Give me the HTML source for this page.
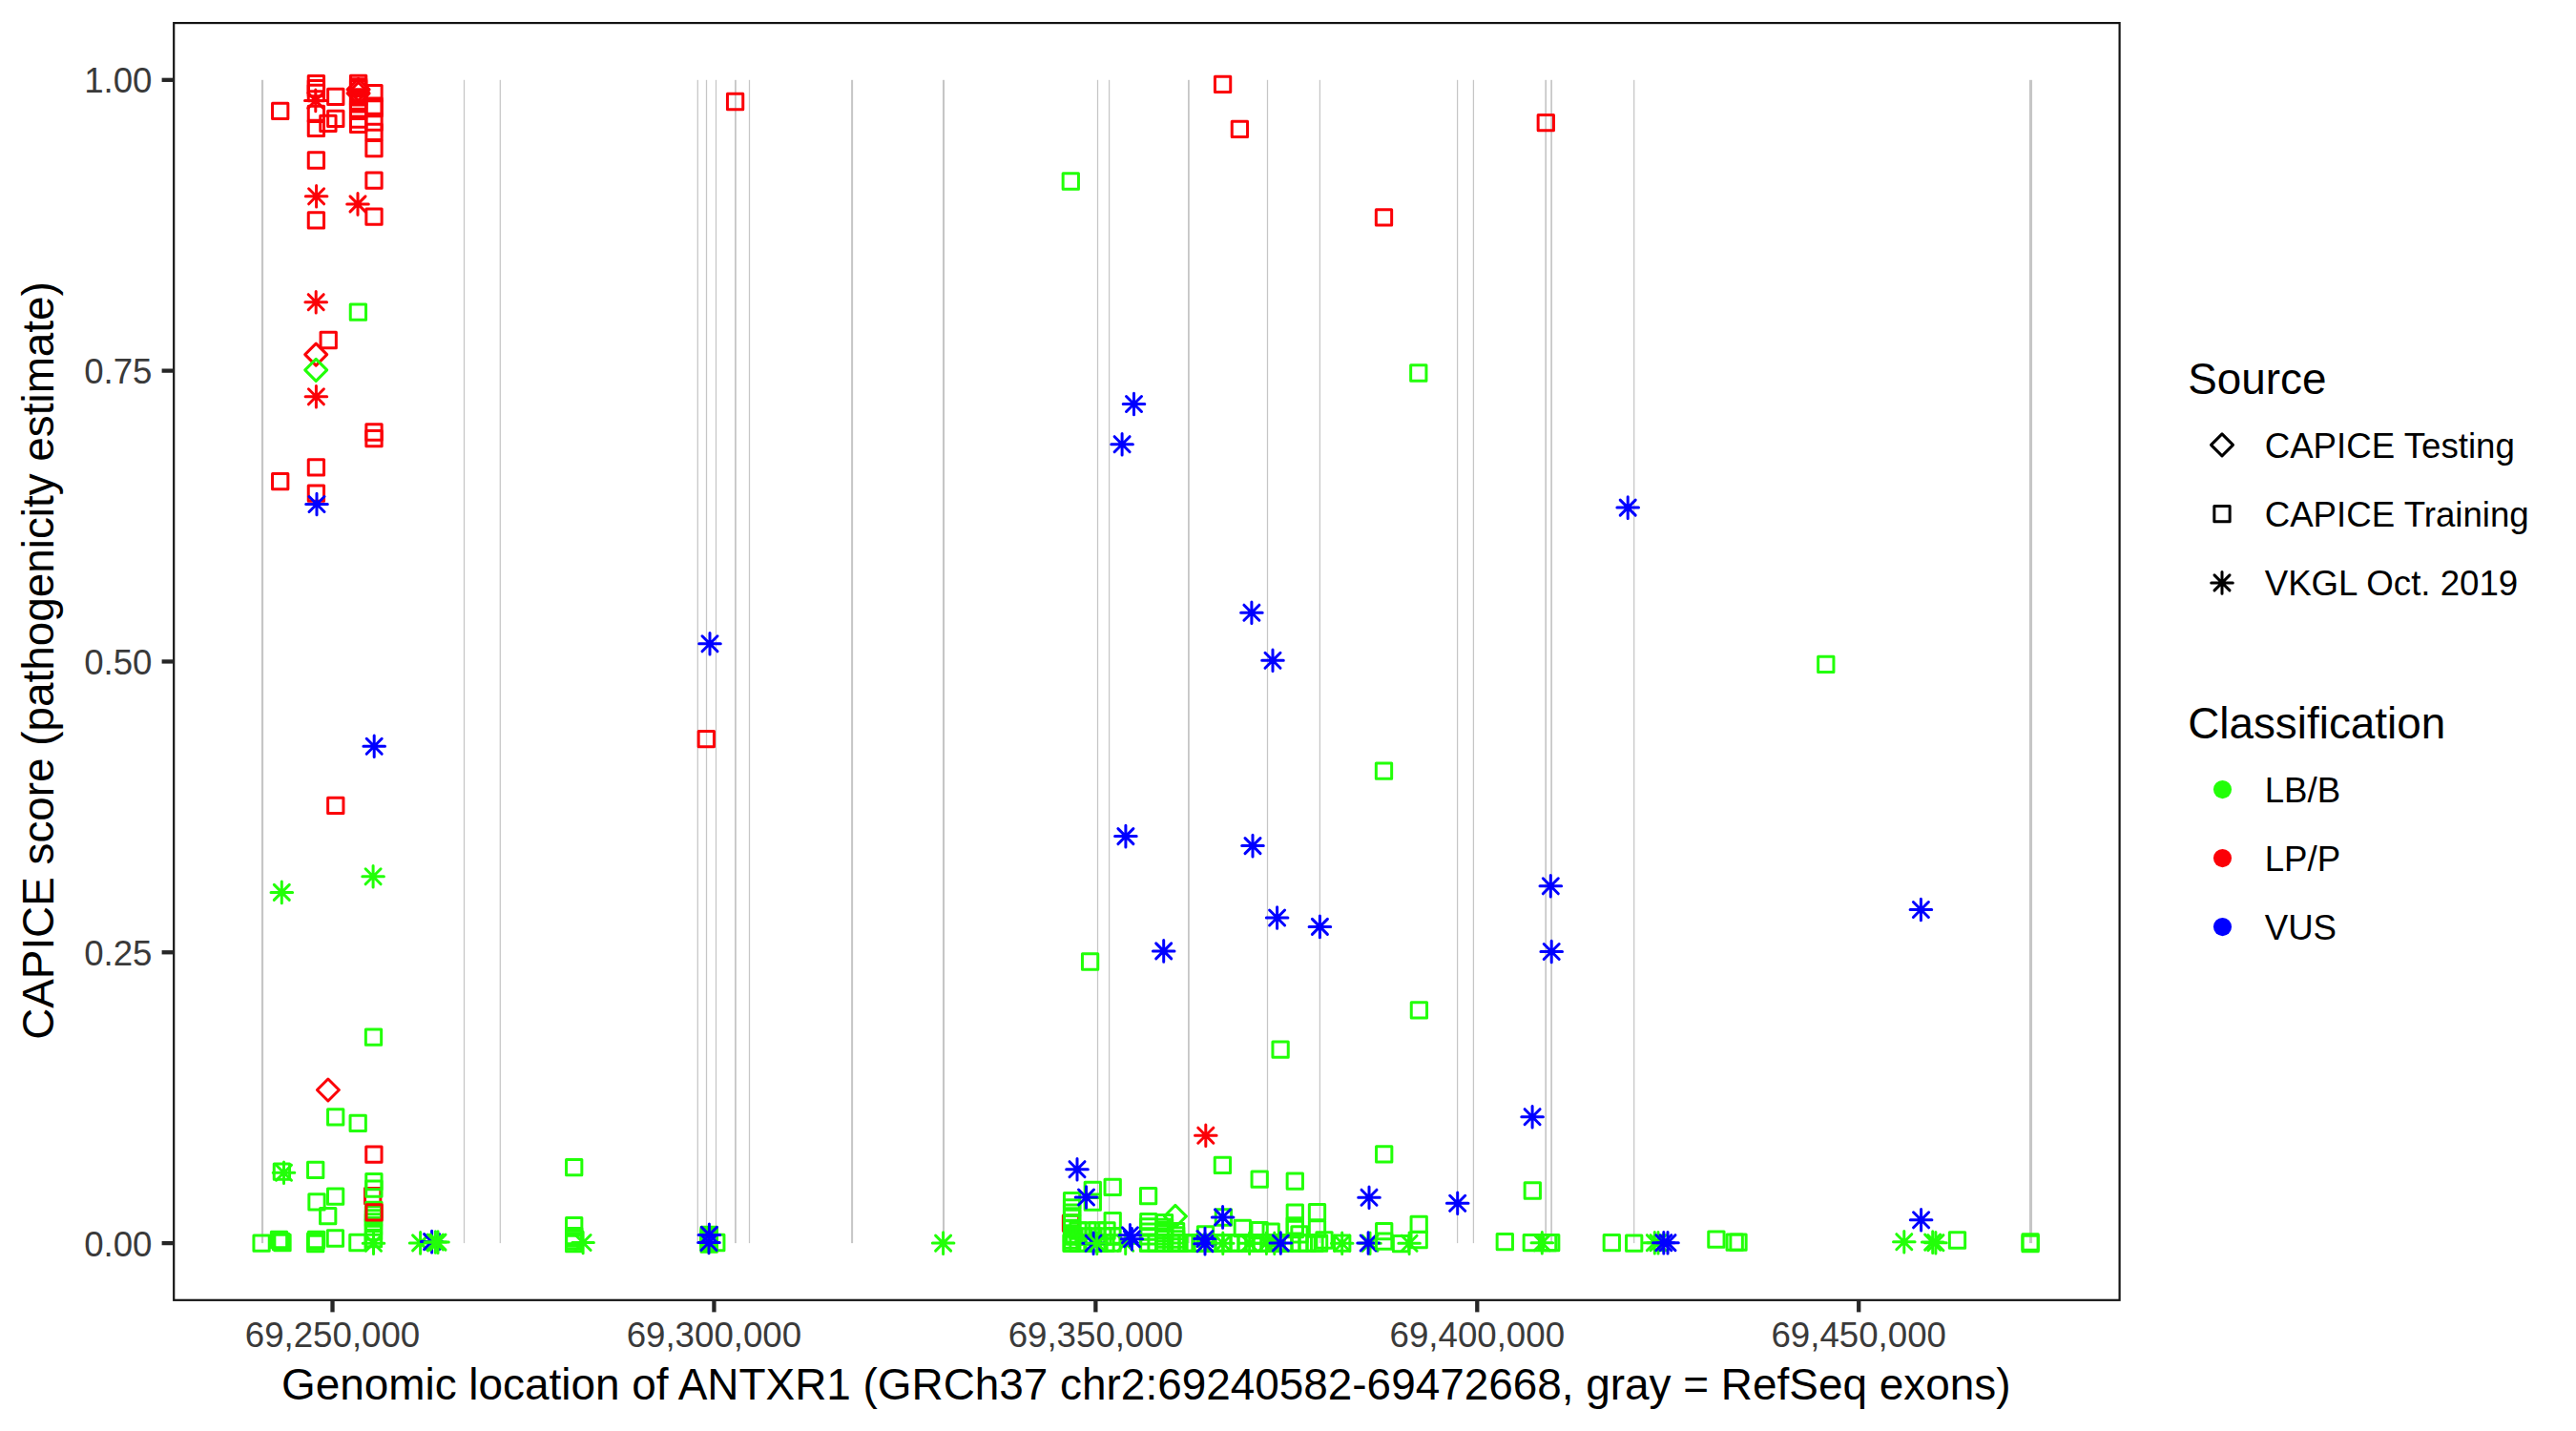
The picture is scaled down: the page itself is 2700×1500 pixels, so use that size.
<!DOCTYPE html><html><head><meta charset="utf-8"><title>CAPICE ANTXR1</title>
<style>html,body{margin:0;padding:0;background:#fff}svg{display:block}text{font-family:"Liberation Sans",Arial,Helvetica,sans-serif}</style></head><body>
<svg width="2700" height="1500" viewBox="0 0 2700 1500">
<rect width="2700" height="1500" fill="#fff"/>
<defs>
<rect id="s" x="-8.15" y="-8.15" width="16.3" height="16.3" fill="none" stroke-width="3.0" stroke-linejoin="round"/>
<path id="d" d="M-11.5 0L0 -11.5L11.5 0L0 11.5Z" fill="none" stroke-width="3.0" stroke-linejoin="round"/>
<path id="a" d="M-11.3 0H11.3M0 -11.3V11.3M-8 -8L8 8M-8 8L8 -8" fill="none" stroke-width="3.0" stroke-linecap="round"/>
</defs>
<g fill="#C6C6C6">
<rect x="273.90" y="83.8" width="2.20" height="1219.3"/>
<rect x="485.88" y="83.8" width="1.25" height="1219.3"/>
<rect x="523.67" y="83.8" width="1.25" height="1219.3"/>
<rect x="730.67" y="83.8" width="1.25" height="1219.3"/>
<rect x="739.88" y="83.8" width="1.25" height="1219.3"/>
<rect x="749.88" y="83.8" width="1.25" height="1219.3"/>
<rect x="770.00" y="83.8" width="1.80" height="1219.3"/>
<rect x="784.88" y="83.8" width="1.25" height="1219.3"/>
<rect x="892.10" y="83.8" width="2.00" height="1219.3"/>
<rect x="987.95" y="83.8" width="2.10" height="1219.3"/>
<rect x="1149.88" y="83.8" width="1.25" height="1219.3"/>
<rect x="1161.97" y="83.8" width="1.25" height="1219.3"/>
<rect x="1245.00" y="83.8" width="1.80" height="1219.3"/>
<rect x="1327.88" y="83.8" width="1.25" height="1219.3"/>
<rect x="1382.78" y="83.8" width="1.25" height="1219.3"/>
<rect x="1526.97" y="83.8" width="1.25" height="1219.3"/>
<rect x="1543.78" y="83.8" width="1.25" height="1219.3"/>
<rect x="1619.35" y="83.8" width="1.70" height="1219.3"/>
<rect x="1625.25" y="83.8" width="1.70" height="1219.3"/>
<rect x="1712.08" y="83.8" width="1.25" height="1219.3"/>
<rect x="2126.95" y="83.8" width="3.10" height="1219.3"/>
</g>
<g>
<use href="#s" x="293.7" y="116.4" stroke="#FB0007"/>
<use href="#s" x="293.7" y="504.6" stroke="#FB0007"/>
<use href="#s" x="331.4" y="87.7" stroke="#FB0007"/>
<use href="#s" x="331.4" y="92.6" stroke="#FB0007"/>
<use href="#s" x="331.4" y="97.5" stroke="#FB0007"/>
<use href="#s" x="331.4" y="119.4" stroke="#FB0007"/>
<use href="#s" x="331.4" y="134.4" stroke="#FB0007"/>
<use href="#s" x="331.4" y="168.0" stroke="#FB0007"/>
<use href="#s" x="331.4" y="230.9" stroke="#FB0007"/>
<use href="#s" x="331.4" y="489.9" stroke="#FB0007"/>
<use href="#s" x="331.4" y="517.1" stroke="#FB0007"/>
<use href="#a" x="330.8" y="105.4" stroke="#FB0007"/>
<use href="#a" x="331.6" y="205.8" stroke="#FB0007"/>
<use href="#a" x="331.2" y="316.7" stroke="#FB0007"/>
<use href="#a" x="331.4" y="415.8" stroke="#FB0007"/>
<use href="#d" x="331.2" y="371.6" stroke="#FB0007"/>
<use href="#d" x="331.2" y="387.9" stroke="#22FF08"/>
<use href="#a" x="332.0" y="528.5" stroke="#0000FF"/>
<use href="#s" x="343.9" y="129.3" stroke="#FB0007"/>
<use href="#s" x="344.2" y="356.5" stroke="#FB0007"/>
<use href="#s" x="351.8" y="101.4" stroke="#FB0007"/>
<use href="#s" x="351.8" y="124.4" stroke="#FB0007"/>
<use href="#s" x="351.8" y="844.4" stroke="#FB0007"/>
<use href="#s" x="375.6" y="87.5" stroke="#FB0007"/>
<use href="#s" x="375.6" y="91.0" stroke="#FB0007"/>
<use href="#s" x="375.6" y="92.7" stroke="#FB0007"/>
<use href="#s" x="375.6" y="101.8" stroke="#FB0007"/>
<use href="#s" x="375.6" y="106.0" stroke="#FB0007"/>
<use href="#s" x="375.6" y="108.0" stroke="#FB0007"/>
<use href="#s" x="375.6" y="114.0" stroke="#FB0007"/>
<use href="#s" x="375.6" y="116.4" stroke="#FB0007"/>
<use href="#s" x="375.6" y="125.2" stroke="#FB0007"/>
<use href="#s" x="375.6" y="130.4" stroke="#FB0007"/>
<use href="#d" x="375.6" y="93.9" stroke="#FB0007"/>
<use href="#d" x="375.6" y="97.9" stroke="#FB0007"/>
<use href="#a" x="375.0" y="213.9" stroke="#FB0007"/>
<use href="#s" x="375.4" y="327.1" stroke="#22FF08"/>
<use href="#s" x="392.0" y="97.6" stroke="#FB0007"/>
<use href="#s" x="392.0" y="111.2" stroke="#FB0007"/>
<use href="#s" x="392.0" y="113.7" stroke="#FB0007"/>
<use href="#s" x="392.0" y="128.0" stroke="#FB0007"/>
<use href="#s" x="392.0" y="138.4" stroke="#FB0007"/>
<use href="#s" x="392.0" y="155.6" stroke="#FB0007"/>
<use href="#s" x="392.0" y="189.2" stroke="#FB0007"/>
<use href="#s" x="392.0" y="227.1" stroke="#FB0007"/>
<use href="#s" x="392.0" y="453.0" stroke="#FB0007"/>
<use href="#s" x="392.0" y="459.7" stroke="#FB0007"/>
<use href="#a" x="392.2" y="782.3" stroke="#0000FF"/>
<use href="#a" x="391.1" y="918.8" stroke="#22FF08"/>
<use href="#a" x="295.3" y="935.4" stroke="#22FF08"/>
<use href="#s" x="391.5" y="1087.2" stroke="#22FF08"/>
<use href="#d" x="343.9" y="1142.5" stroke="#FB0007"/>
<use href="#s" x="351.7" y="1170.8" stroke="#22FF08"/>
<use href="#s" x="375.2" y="1177.3" stroke="#22FF08"/>
<use href="#s" x="391.9" y="1210.2" stroke="#FB0007"/>
<use href="#s" x="295.4" y="1228.2" stroke="#22FF08"/>
<use href="#a" x="297.5" y="1229.2" stroke="#22FF08"/>
<use href="#s" x="330.7" y="1226.3" stroke="#22FF08"/>
<use href="#s" x="390.7" y="1253.6" stroke="#FB0007"/>
<use href="#s" x="391.9" y="1238.7" stroke="#22FF08"/>
<use href="#s" x="391.9" y="1246.1" stroke="#22FF08"/>
<use href="#s" x="351.6" y="1254.2" stroke="#22FF08"/>
<use href="#s" x="332.0" y="1259.8" stroke="#22FF08"/>
<use href="#s" x="391.9" y="1268.3" stroke="#22FF08"/>
<use href="#s" x="343.7" y="1274.7" stroke="#22FF08"/>
<use href="#s" x="391.5" y="1273.0" stroke="#22FF08"/>
<use href="#s" x="391.5" y="1277.0" stroke="#22FF08"/>
<use href="#s" x="391.5" y="1281.0" stroke="#22FF08"/>
<use href="#s" x="391.5" y="1286.0" stroke="#22FF08"/>
<use href="#s" x="391.5" y="1291.0" stroke="#22FF08"/>
<use href="#s" x="391.5" y="1298.6" stroke="#22FF08"/>
<use href="#s" x="392.1" y="1270.9" stroke="#FB0007"/>
<use href="#a" x="391.5" y="1303.2" stroke="#22FF08"/>
<use href="#s" x="274.1" y="1303.2" stroke="#22FF08"/>
<use href="#s" x="292.5" y="1299.5" stroke="#22FF08"/>
<use href="#s" x="294.5" y="1301.5" stroke="#22FF08"/>
<use href="#s" x="296.0" y="1302.5" stroke="#22FF08"/>
<use href="#s" x="330.7" y="1301.2" stroke="#22FF08"/>
<use href="#s" x="330.7" y="1303.5" stroke="#22FF08"/>
<use href="#s" x="331.5" y="1299.5" stroke="#22FF08"/>
<use href="#s" x="351.4" y="1298.0" stroke="#22FF08"/>
<use href="#s" x="374.9" y="1302.5" stroke="#22FF08"/>
<use href="#a" x="440.6" y="1302.9" stroke="#22FF08"/>
<use href="#a" x="452.6" y="1301.6" stroke="#0000FF"/>
<use href="#a" x="456.4" y="1302.0" stroke="#22FF08"/>
<use href="#a" x="459.0" y="1302.1" stroke="#22FF08"/>
<use href="#s" x="601.7" y="1223.7" stroke="#22FF08"/>
<use href="#s" x="601.7" y="1284.6" stroke="#22FF08"/>
<use href="#s" x="601.7" y="1295.7" stroke="#22FF08"/>
<use href="#s" x="601.7" y="1298.2" stroke="#22FF08"/>
<use href="#s" x="601.7" y="1301.2" stroke="#22FF08"/>
<use href="#s" x="601.7" y="1303.5" stroke="#22FF08"/>
<use href="#a" x="611.1" y="1302.5" stroke="#22FF08"/>
<use href="#s" x="770.6" y="106.5" stroke="#FB0007"/>
<use href="#a" x="744.0" y="674.8" stroke="#0000FF"/>
<use href="#s" x="740.3" y="774.6" stroke="#FB0007"/>
<use href="#s" x="743.2" y="1294.4" stroke="#22FF08"/>
<use href="#s" x="743.2" y="1296.0" stroke="#22FF08"/>
<use href="#s" x="743.2" y="1297.4" stroke="#22FF08"/>
<use href="#s" x="743.2" y="1299.9" stroke="#22FF08"/>
<use href="#s" x="743.2" y="1301.0" stroke="#22FF08"/>
<use href="#s" x="743.2" y="1302.5" stroke="#22FF08"/>
<use href="#s" x="743.2" y="1304.0" stroke="#22FF08"/>
<use href="#s" x="750.8" y="1302.5" stroke="#22FF08"/>
<use href="#a" x="743.4" y="1294.4" stroke="#0000FF"/>
<use href="#a" x="743.0" y="1302.5" stroke="#0000FF"/>
<use href="#a" x="988.6" y="1303.1" stroke="#22FF08"/>
<use href="#s" x="1122.3" y="190.0" stroke="#22FF08"/>
<use href="#a" x="1188.5" y="423.5" stroke="#0000FF"/>
<use href="#a" x="1176.1" y="465.7" stroke="#0000FF"/>
<use href="#a" x="1311.9" y="642.2" stroke="#0000FF"/>
<use href="#a" x="1334.0" y="692.3" stroke="#0000FF"/>
<use href="#s" x="1486.8" y="391.0" stroke="#22FF08"/>
<use href="#s" x="1281.6" y="88.3" stroke="#FB0007"/>
<use href="#s" x="1299.4" y="135.3" stroke="#FB0007"/>
<use href="#s" x="1450.5" y="227.9" stroke="#FB0007"/>
<use href="#s" x="1620.3" y="128.6" stroke="#FB0007"/>
<use href="#s" x="1450.5" y="808.2" stroke="#22FF08"/>
<use href="#a" x="1179.9" y="876.6" stroke="#0000FF"/>
<use href="#a" x="1313.0" y="886.6" stroke="#0000FF"/>
<use href="#a" x="1625.3" y="928.8" stroke="#0000FF"/>
<use href="#a" x="1338.6" y="962.0" stroke="#0000FF"/>
<use href="#a" x="1383.4" y="971.4" stroke="#0000FF"/>
<use href="#a" x="1219.7" y="996.9" stroke="#0000FF"/>
<use href="#a" x="1626.2" y="997.5" stroke="#0000FF"/>
<use href="#s" x="1142.6" y="1008.0" stroke="#22FF08"/>
<use href="#s" x="1487.4" y="1058.9" stroke="#22FF08"/>
<use href="#s" x="1342.1" y="1100.2" stroke="#22FF08"/>
<use href="#a" x="1606.1" y="1170.7" stroke="#0000FF"/>
<use href="#a" x="1263.8" y="1190.2" stroke="#FB0007"/>
<use href="#s" x="1450.7" y="1209.8" stroke="#22FF08"/>
<use href="#s" x="1281.4" y="1221.4" stroke="#22FF08"/>
<use href="#s" x="1320.2" y="1236.1" stroke="#22FF08"/>
<use href="#s" x="1357.3" y="1238.2" stroke="#22FF08"/>
<use href="#a" x="1129.0" y="1225.7" stroke="#0000FF"/>
<use href="#s" x="1122.5" y="1282.2" stroke="#FB0007"/>
<use href="#s" x="1166.2" y="1244.3" stroke="#22FF08"/>
<use href="#s" x="1166.2" y="1279.6" stroke="#22FF08"/>
<use href="#s" x="1145.3" y="1247.4" stroke="#22FF08"/>
<use href="#s" x="1145.3" y="1260.2" stroke="#22FF08"/>
<use href="#s" x="1203.6" y="1253.7" stroke="#22FF08"/>
<use href="#s" x="1123.6" y="1258.7" stroke="#22FF08"/>
<use href="#s" x="1123.6" y="1266.0" stroke="#22FF08"/>
<use href="#s" x="1123.6" y="1271.2" stroke="#22FF08"/>
<use href="#s" x="1123.6" y="1276.5" stroke="#22FF08"/>
<use href="#s" x="1123.6" y="1282.0" stroke="#22FF08"/>
<use href="#s" x="1123.6" y="1288.0" stroke="#22FF08"/>
<use href="#s" x="1123.6" y="1294.0" stroke="#22FF08"/>
<use href="#s" x="1123.6" y="1300.0" stroke="#22FF08"/>
<use href="#s" x="1123.6" y="1303.0" stroke="#22FF08"/>
<use href="#d" x="1231.9" y="1274.9" stroke="#22FF08"/>
<use href="#s" x="1282.4" y="1276.0" stroke="#22FF08"/>
<use href="#s" x="1357.3" y="1271.2" stroke="#22FF08"/>
<use href="#s" x="1203.8" y="1280.7" stroke="#22FF08"/>
<use href="#s" x="1203.8" y="1285.9" stroke="#22FF08"/>
<use href="#s" x="1203.8" y="1291.1" stroke="#22FF08"/>
<use href="#s" x="1203.8" y="1295.9" stroke="#22FF08"/>
<use href="#s" x="1203.8" y="1303.2" stroke="#22FF08"/>
<use href="#s" x="1220.5" y="1281.7" stroke="#22FF08"/>
<use href="#s" x="1220.5" y="1286.4" stroke="#22FF08"/>
<use href="#s" x="1220.5" y="1289.6" stroke="#22FF08"/>
<use href="#s" x="1220.5" y="1292.7" stroke="#22FF08"/>
<use href="#s" x="1220.5" y="1295.9" stroke="#22FF08"/>
<use href="#s" x="1220.5" y="1299.0" stroke="#22FF08"/>
<use href="#s" x="1220.5" y="1303.2" stroke="#22FF08"/>
<use href="#s" x="1232.6" y="1290.6" stroke="#22FF08"/>
<use href="#s" x="1232.6" y="1294.8" stroke="#22FF08"/>
<use href="#s" x="1232.6" y="1299.0" stroke="#22FF08"/>
<use href="#s" x="1232.6" y="1303.2" stroke="#22FF08"/>
<use href="#s" x="1263.5" y="1293.8" stroke="#22FF08"/>
<use href="#s" x="1302.3" y="1287.5" stroke="#22FF08"/>
<use href="#s" x="1320.1" y="1289.6" stroke="#22FF08"/>
<use href="#s" x="1332.2" y="1291.1" stroke="#22FF08"/>
<use href="#s" x="1357.3" y="1284.9" stroke="#22FF08"/>
<use href="#s" x="1357.3" y="1288.5" stroke="#22FF08"/>
<use href="#s" x="1362.0" y="1293.8" stroke="#22FF08"/>
<use href="#s" x="1130.0" y="1290.0" stroke="#22FF08"/>
<use href="#s" x="1140.0" y="1290.0" stroke="#22FF08"/>
<use href="#s" x="1150.0" y="1290.0" stroke="#22FF08"/>
<use href="#s" x="1160.0" y="1290.0" stroke="#22FF08"/>
<use href="#s" x="1126.0" y="1296.0" stroke="#22FF08"/>
<use href="#s" x="1136.0" y="1296.0" stroke="#22FF08"/>
<use href="#s" x="1146.0" y="1296.0" stroke="#22FF08"/>
<use href="#s" x="1156.0" y="1296.0" stroke="#22FF08"/>
<use href="#s" x="1166.0" y="1296.0" stroke="#22FF08"/>
<use href="#s" x="1123.0" y="1303.0" stroke="#22FF08"/>
<use href="#s" x="1130.0" y="1303.0" stroke="#22FF08"/>
<use href="#s" x="1137.0" y="1303.0" stroke="#22FF08"/>
<use href="#s" x="1145.0" y="1303.0" stroke="#22FF08"/>
<use href="#s" x="1152.0" y="1303.0" stroke="#22FF08"/>
<use href="#s" x="1159.0" y="1303.0" stroke="#22FF08"/>
<use href="#s" x="1166.0" y="1303.0" stroke="#22FF08"/>
<use href="#s" x="1203.5" y="1303.0" stroke="#22FF08"/>
<use href="#s" x="1212.0" y="1303.0" stroke="#22FF08"/>
<use href="#s" x="1220.0" y="1303.0" stroke="#22FF08"/>
<use href="#s" x="1228.0" y="1303.0" stroke="#22FF08"/>
<use href="#s" x="1236.0" y="1303.0" stroke="#22FF08"/>
<use href="#s" x="1244.0" y="1303.0" stroke="#22FF08"/>
<use href="#s" x="1250.0" y="1303.0" stroke="#22FF08"/>
<use href="#s" x="1258.0" y="1303.0" stroke="#22FF08"/>
<use href="#s" x="1266.0" y="1303.0" stroke="#22FF08"/>
<use href="#s" x="1274.0" y="1303.0" stroke="#22FF08"/>
<use href="#s" x="1282.0" y="1303.0" stroke="#22FF08"/>
<use href="#s" x="1290.0" y="1303.0" stroke="#22FF08"/>
<use href="#s" x="1298.0" y="1303.0" stroke="#22FF08"/>
<use href="#s" x="1306.0" y="1303.0" stroke="#22FF08"/>
<use href="#s" x="1314.0" y="1303.0" stroke="#22FF08"/>
<use href="#s" x="1322.0" y="1303.0" stroke="#22FF08"/>
<use href="#s" x="1330.0" y="1303.0" stroke="#22FF08"/>
<use href="#s" x="1338.0" y="1303.0" stroke="#22FF08"/>
<use href="#s" x="1346.0" y="1303.0" stroke="#22FF08"/>
<use href="#s" x="1354.0" y="1303.0" stroke="#22FF08"/>
<use href="#s" x="1362.0" y="1303.0" stroke="#22FF08"/>
<use href="#s" x="1370.0" y="1303.0" stroke="#22FF08"/>
<use href="#s" x="1378.0" y="1303.0" stroke="#22FF08"/>
<use href="#a" x="1138.5" y="1255.0" stroke="#0000FF"/>
<use href="#a" x="1281.6" y="1275.9" stroke="#0000FF"/>
<use href="#a" x="1179.7" y="1303.2" stroke="#22FF08"/>
<use href="#a" x="1184.4" y="1294.8" stroke="#0000FF"/>
<use href="#a" x="1186.4" y="1298.8" stroke="#0000FF"/>
<use href="#a" x="1146.1" y="1303.2" stroke="#0000FF"/>
<use href="#a" x="1149.8" y="1303.2" stroke="#22FF08"/>
<use href="#a" x="1263.0" y="1298.5" stroke="#0000FF"/>
<use href="#a" x="1263.0" y="1303.7" stroke="#0000FF"/>
<use href="#a" x="1281.8" y="1303.2" stroke="#22FF08"/>
<use href="#a" x="1309.6" y="1303.2" stroke="#22FF08"/>
<use href="#a" x="1327.4" y="1303.2" stroke="#22FF08"/>
<use href="#a" x="1335.8" y="1303.2" stroke="#22FF08"/>
<use href="#a" x="1342.3" y="1303.0" stroke="#0000FF"/>
<use href="#s" x="1380.5" y="1270.7" stroke="#22FF08"/>
<use href="#s" x="1380.5" y="1288.0" stroke="#22FF08"/>
<use href="#s" x="1382.6" y="1303.2" stroke="#22FF08"/>
<use href="#s" x="1388.0" y="1300.0" stroke="#22FF08"/>
<use href="#s" x="1406.7" y="1303.2" stroke="#22FF08"/>
<use href="#a" x="1406.7" y="1303.2" stroke="#22FF08"/>
<use href="#a" x="1436.0" y="1303.2" stroke="#22FF08"/>
<use href="#a" x="1435.0" y="1255.2" stroke="#0000FF"/>
<use href="#a" x="1434.1" y="1303.0" stroke="#0000FF"/>
<use href="#s" x="1450.7" y="1290.6" stroke="#22FF08"/>
<use href="#s" x="1450.7" y="1301.1" stroke="#22FF08"/>
<use href="#s" x="1487.2" y="1283.3" stroke="#22FF08"/>
<use href="#s" x="1487.2" y="1299.5" stroke="#22FF08"/>
<use href="#s" x="1468.5" y="1303.7" stroke="#22FF08"/>
<use href="#a" x="1477.1" y="1303.2" stroke="#22FF08"/>
<use href="#a" x="1527.7" y="1261.3" stroke="#0000FF"/>
<use href="#s" x="1606.3" y="1248.0" stroke="#22FF08"/>
<use href="#s" x="1577.3" y="1301.6" stroke="#22FF08"/>
<use href="#s" x="1605.3" y="1302.7" stroke="#22FF08"/>
<use href="#s" x="1622.6" y="1302.7" stroke="#22FF08"/>
<use href="#s" x="1625.7" y="1302.7" stroke="#22FF08"/>
<use href="#a" x="1616.3" y="1302.7" stroke="#22FF08"/>
<use href="#a" x="1706.2" y="532.1" stroke="#0000FF"/>
<use href="#s" x="1913.8" y="696.3" stroke="#22FF08"/>
<use href="#a" x="2013.4" y="953.5" stroke="#0000FF"/>
<use href="#s" x="1689.3" y="1302.7" stroke="#22FF08"/>
<use href="#s" x="1712.7" y="1303.1" stroke="#22FF08"/>
<use href="#a" x="1734.3" y="1302.7" stroke="#22FF08"/>
<use href="#a" x="1738.0" y="1302.7" stroke="#22FF08"/>
<use href="#a" x="1743.8" y="1302.7" stroke="#0000FF"/>
<use href="#a" x="1748.0" y="1302.7" stroke="#0000FF"/>
<use href="#s" x="1798.9" y="1299.2" stroke="#22FF08"/>
<use href="#s" x="1818.2" y="1302.1" stroke="#22FF08"/>
<use href="#s" x="1822.0" y="1302.1" stroke="#22FF08"/>
<use href="#a" x="2013.6" y="1278.8" stroke="#0000FF"/>
<use href="#a" x="1995.8" y="1301.7" stroke="#22FF08"/>
<use href="#a" x="2025.7" y="1302.1" stroke="#22FF08"/>
<use href="#a" x="2028.9" y="1302.7" stroke="#22FF08"/>
<use href="#s" x="2051.5" y="1300.0" stroke="#22FF08"/>
<use href="#s" x="2128.1" y="1302.0" stroke="#22FF08"/>
<use href="#s" x="2128.1" y="1303.5" stroke="#22FF08"/>
</g>
<rect x="182.20" y="24.10" width="2039.40" height="1338.70" fill="none" stroke="#141414" stroke-width="2.2"/>
<g stroke="#262626" stroke-width="4.3">
<line x1="169.6" x2="181.1" y1="1303.10" y2="1303.10"/>
<line x1="169.6" x2="181.1" y1="998.27" y2="998.27"/>
<line x1="169.6" x2="181.1" y1="693.45" y2="693.45"/>
<line x1="169.6" x2="181.1" y1="388.62" y2="388.62"/>
<line x1="169.6" x2="181.1" y1="83.80" y2="83.80"/>
<line x1="348.50" x2="348.50" y1="1363.9" y2="1375.4"/>
<line x1="748.43" x2="748.43" y1="1363.9" y2="1375.4"/>
<line x1="1148.36" x2="1148.36" y1="1363.9" y2="1375.4"/>
<line x1="1548.29" x2="1548.29" y1="1363.9" y2="1375.4"/>
<line x1="1948.22" x2="1948.22" y1="1363.9" y2="1375.4"/>
</g>
<g fill="#3A3A3A" font-size="36.67">
<text x="159.5" y="1316.5" text-anchor="end">0.00</text>
<text x="159.5" y="1011.7" text-anchor="end">0.25</text>
<text x="159.5" y="706.8" text-anchor="end">0.50</text>
<text x="159.5" y="402.0" text-anchor="end">0.75</text>
<text x="159.5" y="97.2" text-anchor="end">1.00</text>
<text x="348.5" y="1411.7" text-anchor="middle">69,250,000</text>
<text x="748.4" y="1411.7" text-anchor="middle">69,300,000</text>
<text x="1148.4" y="1411.7" text-anchor="middle">69,350,000</text>
<text x="1548.3" y="1411.7" text-anchor="middle">69,400,000</text>
<text x="1948.2" y="1411.7" text-anchor="middle">69,450,000</text>
</g>
<g fill="#000" font-size="45.83">
<text font-size="45.9" x="1201.2" y="1467.3" text-anchor="middle">Genomic location of ANTXR1 (GRCh37 chr2:69240582-69472668, gray = RefSeq exons)</text>
<text transform="translate(56.3 692.5) rotate(-90)" text-anchor="middle">CAPICE score (pathogenicity estimate)</text>
<text x="2293.2" y="412.8">Source</text>
<text x="2293.2" y="774.3">Classification</text>
</g>
<g fill="#000" font-size="36.67">
<text x="2373.7" y="480.2">CAPICE Testing</text>
<text x="2373.7" y="552.2">CAPICE Training</text>
<text x="2373.7" y="624.2">VKGL Oct. 2019</text>
<text x="2373.7" y="840.7">LB/B</text>
<text x="2373.7" y="912.7">LP/P</text>
<text x="2373.7" y="984.6">VUS</text>
</g>
<use href="#d" x="2329" y="466.4" stroke="#000"/><use href="#s" x="2329" y="538.6" stroke="#000"/><use href="#a" x="2329" y="610.9" stroke="#000"/>
<circle cx="2329.5" cy="827.6" r="9.55" fill="#22FF08"/>
<circle cx="2329.5" cy="899.6" r="9.55" fill="#FB0007"/>
<circle cx="2329.5" cy="971.6" r="9.55" fill="#0000FF"/>
</svg></body></html>
